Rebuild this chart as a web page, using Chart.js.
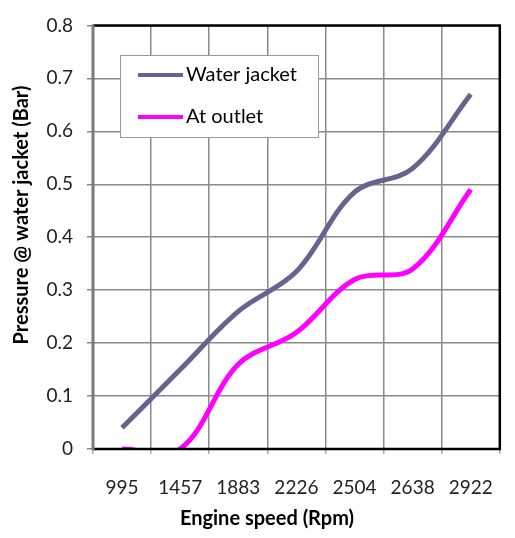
<!DOCTYPE html>
<html>
<head>
<meta charset="utf-8">
<script src="https://cdn.jsdelivr.net/npm/chart.js@4"></script>
<style>
html,body{margin:0;padding:0;background:#fff;}
#wrap{width:515px;height:538px;}
</style>
</head>
<body>
<div id="wrap"><canvas id="c" width="515" height="538"></canvas></div>
<script>
const categories = ['995', '1457', '1883', '2226', '2504', '2638', '2922'];
const waterJacket = [0.04, 0.15, 0.26, 0.335, 0.485, 0.53, 0.67];
const atOutlet = [0.0, 0.0, 0.16, 0.22, 0.32, 0.34, 0.49];
const seriesNames = ['Water jacket', 'At outlet'];
const xTitle = 'Engine speed (Rpm)';
const yTitle = 'Pressure @ water jacket (Bar)';

const FONT = 'Lato, "Open Sans", sans-serif';

const framePlugin = {
  id: 'frame',
  afterDatasetsDraw(chart) {
    const {ctx, chartArea: a} = chart;
    ctx.save();
    ctx.strokeStyle = '#000';
    ctx.lineWidth = 2.5;
    ctx.beginPath();
    ctx.moveTo(a.left, a.top);
    ctx.lineTo(a.right, a.top);
    ctx.lineTo(a.right, a.bottom);
    ctx.lineTo(a.left, a.bottom);
    ctx.stroke();
    ctx.strokeStyle = '#7a7a7a';
    ctx.lineWidth = 3;
    ctx.beginPath();
    ctx.moveTo(a.left, a.top - 1);
    ctx.lineTo(a.left, a.bottom + 1);
    ctx.stroke();
    ctx.restore();
  }
};

const legendPlugin = {
  id: 'boxLegend',
  afterDraw(chart) {
    const {ctx} = chart;
    const x = 120, y = 55, w = 198, h = 82;
    ctx.save();
    ctx.fillStyle = '#fff';
    ctx.fillRect(x, y, w, h);
    ctx.strokeStyle = '#9a9a9a';
    ctx.lineWidth = 1;
    ctx.strokeRect(x + 0.5, y + 0.5, w, h);
    chart.data.datasets.forEach((ds, i) => {
      const ly = y + 20 + i * 42;
      ctx.strokeStyle = ds.borderColor;
      ctx.lineWidth = 4;
      ctx.beginPath();
      ctx.moveTo(x + 18, ly);
      ctx.lineTo(x + 63, ly);
      ctx.stroke();
      ctx.fillStyle = '#000';
      ctx.font = '20px ' + FONT;
      ctx.textBaseline = 'middle';
      ctx.textAlign = 'left';
      ctx.fillText(ds.label, x + 66, ly);
    });
    ctx.restore();
  }
};

const titlesPlugin = {
  id: 'axisTitles',
  afterDraw(chart) {
    const {ctx} = chart;
    ctx.save();
    ctx.fillStyle = '#000';
    ctx.font = 'bold 20px ' + FONT;
    ctx.textAlign = 'center';
    ctx.textBaseline = 'middle';
    ctx.fillText(xTitle, 267, 519);
    ctx.translate(22, 215);
    ctx.rotate(-Math.PI / 2);
    ctx.fillText(yTitle, 0, 0);
    ctx.restore();
  }
};

new Chart(document.getElementById('c'), {
  type: 'line',
  data: {
    labels: categories,
    datasets: [
      {label: seriesNames[0], data: waterJacket, borderColor: '#64648f', borderWidth: 5, pointRadius: 0, tension: 0.35, fill: false, clip: 0},
      {label: seriesNames[1], data: atOutlet, borderColor: '#ff00ff', borderWidth: 5, pointRadius: 0, tension: 0.35, fill: false, clip: 0}
    ]
  },
  plugins: [framePlugin, legendPlugin, titlesPlugin],
  options: {
    responsive: false,
    animation: false,
    events: [],
    elements: {line: {capBezierPoints: false}},
    layout: {padding: {top: 14, right: 3, left: 0, bottom: 0}},
    plugins: {legend: {display: false}, tooltip: {enabled: false}, title: {display: false}},
    scales: {
      x: {
        offset: true,
        grid: {offset: true, color: '#8a8a8a', lineWidth: 1.5, tickLength: 5, tickColor: '#aaa', drawTicks: true},
        border: {display: false},
        ticks: {color: '#222', font: {family: FONT, size: 19}, padding: 22, maxRotation: 0, autoSkip: false},
        afterFit(s) { s.height = 89; }
      },
      y: {
        min: 0, max: 0.8,
        grid: {color: '#8a8a8a', lineWidth: 1.5, tickLength: 6, tickColor: '#888'},
        border: {display: false},
        ticks: {stepSize: 0.1, color: '#222', font: {family: FONT, size: 19}, padding: 14,
          callback: v => (Math.round(v * 10) / 10).toString()},
        afterFit(s) { s.width = 93; }
      }
    }
  }
});
</script>
</body>
</html>
